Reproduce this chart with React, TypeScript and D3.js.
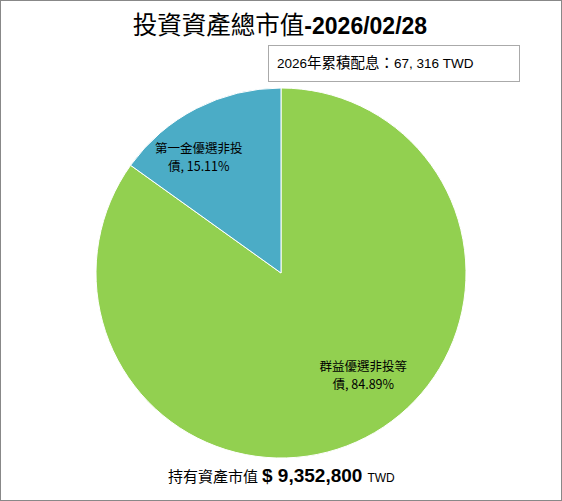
import React, { useEffect, useRef } from 'react';
import * as d3 from 'd3';

const categories = ['群益優選非投等債', '第一金優選非投債'];
const shares = [84.89, 15.11];
const sliceColors = ['#92D050', '#4BACC6'];
const labelLines = [
  ['群益優選非投等', '債, 84.89%'],
  ['第一金優選非投', '債, 15.11%'],
];
const titleText = ['投資資產總市值', '-2026/02/28'];
const dividendText = ['2026年累積配息：', '67, 316 TWD'];
const totalText = ['持有資產市值', '$ 9,352,800', 'TWD'];

const W = 562;
const H = 501;
const CJK = '"Noto Sans CJK TC", "Noto Sans", sans-serif';

const App: React.FC = () => {
  const ref = useRef<SVGSVGElement | null>(null);

  useEffect(() => {
    const svg = d3.select(ref.current);
    svg.selectAll('*').remove();

    svg.append('rect')
      .attr('x', 0.5).attr('y', 0.5)
      .attr('width', W - 1).attr('height', H - 1)
      .attr('fill', '#fff').attr('stroke', '#888');

    // title
    const title = svg.append('text')
      .attr('x', 280).attr('y', 34)
      .attr('text-anchor', 'middle')
      .attr('fill', '#000');
    title.append('tspan').attr('font-family', CJK).attr('font-size', 24.5).text(titleText[0]);
    title.append('tspan').attr('font-family', '"Liberation Sans", sans-serif')
      .attr('font-weight', 'bold').attr('font-size', 23).text(titleText[1]);

    // dividend box
    svg.append('rect')
      .attr('x', 268.5).attr('y', 45.5)
      .attr('width', 251).attr('height', 36)
      .attr('fill', '#fff').attr('stroke', '#aaa');
    const div = svg.append('text').attr('x', 277).attr('y', 68).attr('fill', '#000');
    div.append('tspan').attr('font-family', '"Liberation Sans", sans-serif').attr('font-size', 13.5).text(dividendText[0].slice(0, 4));
    div.append('tspan').attr('font-family', CJK).attr('font-size', 14.5).text(dividendText[0].slice(4));
    div.append('tspan').attr('font-family', '"Liberation Sans", sans-serif').attr('font-size', 13.5).text(dividendText[1]);

    // pie
    const cx = 281, cy = 273, r = 185;
    const data = categories.map((c, i) => ({ c, v: shares[i], i }));
    const pie = d3.pie<typeof data[0]>().sort(null).value(d => d.v);
    const arc = d3.arc<d3.PieArcDatum<typeof data[0]>>().innerRadius(0).outerRadius(r);
    const g = svg.append('g').attr('transform', `translate(${cx},${cy})`);
    const arcs = pie(data);
    g.selectAll('path')
      .data(arcs)
      .enter().append('path')
      .attr('d', arc)
      .attr('fill', d => sliceColors[d.data.i])
      .attr('stroke', '#fff')
      .attr('stroke-width', 1);

    // data labels (best-fit style, rotated a little counter-clockwise from the slice middle)
    const labelR = r * 0.74;
    arcs.forEach(a => {
      const mid = (a.startAngle + a.endAngle) / 2 - 0.17;
      const lx = Math.sin(mid) * labelR;
      const ly = -Math.cos(mid) * labelR - 7;
      const t = g.append('text')
        .attr('text-anchor', 'middle')
        .attr('font-family', CJK)
        .attr('font-size', 12.5)
        .attr('fill', '#000');
      labelLines[a.data.i].forEach((line, k) => {
        t.append('tspan').attr('x', lx).attr('y', ly - 4 + k * 18).text(line);
      });
    });

    // total value
    const tot = svg.append('text').attr('x', 168).attr('y', 482).attr('fill', '#000');
    tot.append('tspan').attr('font-family', CJK).attr('font-size', 15).text(totalText[0]);
    tot.append('tspan').attr('dx', 4).attr('font-family', '"Liberation Sans", sans-serif')
      .attr('font-weight', 'bold').attr('font-size', 19).text(totalText[1]);
    tot.append('tspan').attr('dx', 5).attr('font-family', '"Liberation Sans", sans-serif')
      .attr('font-size', 12).text(totalText[2]);
  }, []);

  return (
    <svg ref={ref} width={W} height={H}
      style={{ position: 'absolute', left: 0, top: 0, display: 'block' }} />
  );
};

export default App;
